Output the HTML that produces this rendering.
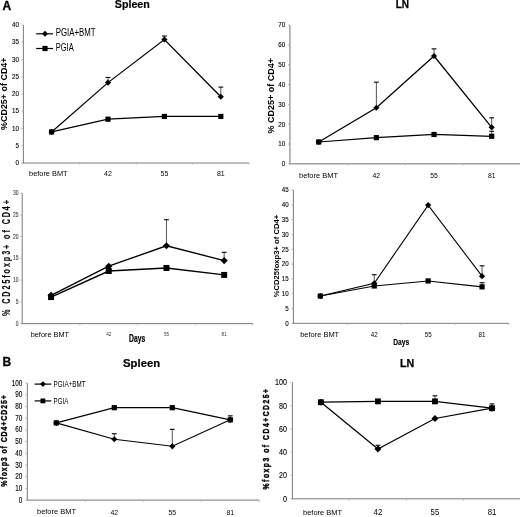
<!DOCTYPE html>
<html><head><meta charset="utf-8"><style>
html,body{margin:0;padding:0;background:#fff;}
body{filter:grayscale(1) blur(0.3px);}
svg{display:block;font-family:"Liberation Sans", sans-serif;}
</style></head><body>
<svg width="520" height="517" viewBox="0 0 520 517">
<rect width="520" height="517" fill="#fff"/>
<text x="2.40" y="9.90" font-size="12" text-anchor="start" fill="#000" font-weight="bold" stroke="#000" stroke-width="0.3">A</text>
<text x="132.30" y="8.10" font-size="10.8" text-anchor="middle" fill="#000" font-weight="bold" textLength="35.00" lengthAdjust="spacingAndGlyphs" stroke="#000" stroke-width="0.2">Spleen</text>
<line x1="23.40" y1="25.00" x2="23.40" y2="163.50" stroke="#7a7a7a" stroke-width="1"/>
<line x1="22.90" y1="163.00" x2="249.00" y2="163.00" stroke="#7a7a7a" stroke-width="1"/>
<line x1="21.40" y1="163.00" x2="23.40" y2="163.00" stroke="#a8a8a8" stroke-width="0.8"/>
<text x="19.00" y="165.06" font-size="8.0" text-anchor="end" fill="#000" textLength="3.50" lengthAdjust="spacingAndGlyphs" stroke="#000" stroke-width="0.12">0</text>
<line x1="21.40" y1="145.75" x2="23.40" y2="145.75" stroke="#a8a8a8" stroke-width="0.8"/>
<text x="19.00" y="147.81" font-size="8.0" text-anchor="end" fill="#000" textLength="3.50" lengthAdjust="spacingAndGlyphs" stroke="#000" stroke-width="0.12">5</text>
<line x1="21.40" y1="128.50" x2="23.40" y2="128.50" stroke="#a8a8a8" stroke-width="0.8"/>
<text x="19.00" y="130.56" font-size="8.0" text-anchor="end" fill="#000" textLength="7.00" lengthAdjust="spacingAndGlyphs" stroke="#000" stroke-width="0.12">10</text>
<line x1="21.40" y1="111.25" x2="23.40" y2="111.25" stroke="#a8a8a8" stroke-width="0.8"/>
<text x="19.00" y="113.31" font-size="8.0" text-anchor="end" fill="#000" textLength="7.00" lengthAdjust="spacingAndGlyphs" stroke="#000" stroke-width="0.12">15</text>
<line x1="21.40" y1="94.00" x2="23.40" y2="94.00" stroke="#a8a8a8" stroke-width="0.8"/>
<text x="19.00" y="96.06" font-size="8.0" text-anchor="end" fill="#000" textLength="7.00" lengthAdjust="spacingAndGlyphs" stroke="#000" stroke-width="0.12">20</text>
<line x1="21.40" y1="76.75" x2="23.40" y2="76.75" stroke="#a8a8a8" stroke-width="0.8"/>
<text x="19.00" y="78.81" font-size="8.0" text-anchor="end" fill="#000" textLength="7.00" lengthAdjust="spacingAndGlyphs" stroke="#000" stroke-width="0.12">25</text>
<line x1="21.40" y1="59.50" x2="23.40" y2="59.50" stroke="#a8a8a8" stroke-width="0.8"/>
<text x="19.00" y="61.56" font-size="8.0" text-anchor="end" fill="#000" textLength="7.00" lengthAdjust="spacingAndGlyphs" stroke="#000" stroke-width="0.12">30</text>
<line x1="21.40" y1="42.25" x2="23.40" y2="42.25" stroke="#a8a8a8" stroke-width="0.8"/>
<text x="19.00" y="44.31" font-size="8.0" text-anchor="end" fill="#000" textLength="7.00" lengthAdjust="spacingAndGlyphs" stroke="#000" stroke-width="0.12">35</text>
<line x1="21.40" y1="25.00" x2="23.40" y2="25.00" stroke="#a8a8a8" stroke-width="0.8"/>
<text x="19.00" y="27.06" font-size="8.0" text-anchor="end" fill="#000" textLength="7.00" lengthAdjust="spacingAndGlyphs" stroke="#000" stroke-width="0.12">40</text>
<line x1="79.80" y1="163.00" x2="79.80" y2="164.80" stroke="#b0b0b0" stroke-width="0.8"/>
<line x1="136.20" y1="163.00" x2="136.20" y2="164.80" stroke="#b0b0b0" stroke-width="0.8"/>
<line x1="192.60" y1="163.00" x2="192.60" y2="164.80" stroke="#b0b0b0" stroke-width="0.8"/>
<line x1="249.00" y1="163.00" x2="249.00" y2="164.80" stroke="#b0b0b0" stroke-width="0.8"/>
<text x="48.30" y="176.30" font-size="7.7" text-anchor="middle" fill="#000" textLength="38.50" lengthAdjust="spacingAndGlyphs">before BMT</text>
<text x="108.00" y="176.00" font-size="8" text-anchor="middle" fill="#000" textLength="7.80" lengthAdjust="spacingAndGlyphs">42</text>
<text x="164.40" y="176.00" font-size="8" text-anchor="middle" fill="#000" textLength="7.80" lengthAdjust="spacingAndGlyphs">55</text>
<text x="220.80" y="176.00" font-size="8" text-anchor="middle" fill="#000" textLength="7.80" lengthAdjust="spacingAndGlyphs">81</text>
<polyline points="51.60,131.95 108.00,119.19 164.40,116.42 220.80,116.42" fill="none" stroke="#000" stroke-width="1.25" stroke-linejoin="miter"/>
<polyline points="51.60,131.95 108.00,82.61 164.40,39.49 220.80,96.76" fill="none" stroke="#000" stroke-width="1.25" stroke-linejoin="miter"/>
<line x1="108.00" y1="82.61" x2="108.00" y2="77.44" stroke="#555" stroke-width="1.0"/>
<line x1="105.60" y1="77.44" x2="110.40" y2="77.44" stroke="#000" stroke-width="1.1"/>
<line x1="164.40" y1="39.49" x2="164.40" y2="36.04" stroke="#555" stroke-width="1.0"/>
<line x1="162.00" y1="36.04" x2="166.80" y2="36.04" stroke="#000" stroke-width="1.1"/>
<line x1="220.80" y1="96.76" x2="220.80" y2="87.10" stroke="#555" stroke-width="1.0"/>
<line x1="218.40" y1="87.10" x2="223.20" y2="87.10" stroke="#000" stroke-width="1.1"/>
<rect x="49.00" y="129.35" width="5.20" height="5.20" fill="#000"/>
<rect x="105.40" y="116.59" width="5.20" height="5.20" fill="#000"/>
<rect x="161.80" y="113.83" width="5.20" height="5.20" fill="#000"/>
<rect x="218.20" y="113.83" width="5.20" height="5.20" fill="#000"/>
<path d="M48.50 131.95L51.60 128.85L54.70 131.95L51.60 135.05Z" fill="#000"/>
<path d="M104.90 82.61L108.00 79.52L111.10 82.61L108.00 85.71Z" fill="#000"/>
<path d="M161.30 39.49L164.40 36.39L167.50 39.49L164.40 42.59Z" fill="#000"/>
<path d="M217.70 96.76L220.80 93.66L223.90 96.76L220.80 99.86Z" fill="#000"/>
<text x="7.00" y="93.70" font-size="9.3" text-anchor="middle" fill="#000" font-weight="bold" textLength="72.50" lengthAdjust="spacingAndGlyphs" transform="rotate(-90 7.00 93.70)">%CD25+ of CD4+</text>
<line x1="36.20" y1="33.80" x2="53.00" y2="33.80" stroke="#000" stroke-width="1.2"/>
<path d="M42.00 33.80L45.00 30.80L48.00 33.80L45.00 36.80Z" fill="#000"/>
<text x="55.70" y="36.40" font-size="10" text-anchor="start" fill="#000" textLength="40.00" lengthAdjust="spacingAndGlyphs">PGIA+BMT</text>
<line x1="36.20" y1="48.50" x2="53.00" y2="48.50" stroke="#000" stroke-width="1.2"/>
<rect x="42.40" y="45.90" width="5.20" height="5.20" fill="#000"/>
<text x="55.70" y="51.10" font-size="10" text-anchor="start" fill="#000" textLength="18.00" lengthAdjust="spacingAndGlyphs">PGIA</text>
<text x="402.40" y="8.40" font-size="10.4" text-anchor="middle" fill="#000" font-weight="bold" textLength="13.40" lengthAdjust="spacingAndGlyphs" stroke="#000" stroke-width="0.25">LN</text>
<line x1="289.90" y1="25.10" x2="289.90" y2="164.30" stroke="#a0a0a0" stroke-width="1.5"/>
<line x1="289.40" y1="163.80" x2="520.50" y2="163.80" stroke="#a0a0a0" stroke-width="1.5"/>
<line x1="287.90" y1="163.80" x2="289.90" y2="163.80" stroke="#a8a8a8" stroke-width="0.8"/>
<text x="285.10" y="166.16" font-size="7.7" text-anchor="end" fill="#000" textLength="3.45" lengthAdjust="spacingAndGlyphs" stroke="#000" stroke-width="0.12">0</text>
<line x1="287.90" y1="143.99" x2="289.90" y2="143.99" stroke="#a8a8a8" stroke-width="0.8"/>
<text x="285.10" y="146.34" font-size="7.7" text-anchor="end" fill="#000" textLength="6.90" lengthAdjust="spacingAndGlyphs" stroke="#000" stroke-width="0.12">10</text>
<line x1="287.90" y1="124.17" x2="289.90" y2="124.17" stroke="#a8a8a8" stroke-width="0.8"/>
<text x="285.10" y="126.53" font-size="7.7" text-anchor="end" fill="#000" textLength="6.90" lengthAdjust="spacingAndGlyphs" stroke="#000" stroke-width="0.12">20</text>
<line x1="287.90" y1="104.36" x2="289.90" y2="104.36" stroke="#a8a8a8" stroke-width="0.8"/>
<text x="285.10" y="106.71" font-size="7.7" text-anchor="end" fill="#000" textLength="6.90" lengthAdjust="spacingAndGlyphs" stroke="#000" stroke-width="0.12">30</text>
<line x1="287.90" y1="84.54" x2="289.90" y2="84.54" stroke="#a8a8a8" stroke-width="0.8"/>
<text x="285.10" y="86.90" font-size="7.7" text-anchor="end" fill="#000" textLength="6.90" lengthAdjust="spacingAndGlyphs" stroke="#000" stroke-width="0.12">40</text>
<line x1="287.90" y1="64.73" x2="289.90" y2="64.73" stroke="#a8a8a8" stroke-width="0.8"/>
<text x="285.10" y="67.09" font-size="7.7" text-anchor="end" fill="#000" textLength="6.90" lengthAdjust="spacingAndGlyphs" stroke="#000" stroke-width="0.12">50</text>
<line x1="287.90" y1="44.91" x2="289.90" y2="44.91" stroke="#a8a8a8" stroke-width="0.8"/>
<text x="285.10" y="47.27" font-size="7.7" text-anchor="end" fill="#000" textLength="6.90" lengthAdjust="spacingAndGlyphs" stroke="#000" stroke-width="0.12">60</text>
<line x1="287.90" y1="25.10" x2="289.90" y2="25.10" stroke="#a8a8a8" stroke-width="0.8"/>
<text x="285.10" y="27.46" font-size="7.7" text-anchor="end" fill="#000" textLength="6.90" lengthAdjust="spacingAndGlyphs" stroke="#000" stroke-width="0.12">70</text>
<line x1="347.55" y1="163.80" x2="347.55" y2="165.60" stroke="#b0b0b0" stroke-width="0.8"/>
<line x1="405.20" y1="163.80" x2="405.20" y2="165.60" stroke="#b0b0b0" stroke-width="0.8"/>
<line x1="462.85" y1="163.80" x2="462.85" y2="165.60" stroke="#b0b0b0" stroke-width="0.8"/>
<line x1="520.50" y1="163.80" x2="520.50" y2="165.60" stroke="#b0b0b0" stroke-width="0.8"/>
<text x="318.50" y="177.90" font-size="7.7" text-anchor="middle" fill="#000" textLength="39.00" lengthAdjust="spacingAndGlyphs">before BMT</text>
<text x="376.38" y="177.90" font-size="7.7" text-anchor="middle" fill="#000" textLength="7.60" lengthAdjust="spacingAndGlyphs">42</text>
<text x="434.02" y="177.90" font-size="7.7" text-anchor="middle" fill="#000" textLength="7.60" lengthAdjust="spacingAndGlyphs">55</text>
<text x="491.68" y="177.90" font-size="7.7" text-anchor="middle" fill="#000" textLength="7.60" lengthAdjust="spacingAndGlyphs">81</text>
<polyline points="318.72,142.00 376.38,137.65 434.02,134.47 491.68,136.26" fill="none" stroke="#000" stroke-width="1.25" stroke-linejoin="miter"/>
<polyline points="318.72,142.00 376.38,107.73 434.02,56.01 491.68,127.34" fill="none" stroke="#000" stroke-width="1.25" stroke-linejoin="miter"/>
<line x1="491.68" y1="136.26" x2="491.68" y2="131.30" stroke="#555" stroke-width="1.0"/>
<line x1="489.28" y1="131.30" x2="494.07" y2="131.30" stroke="#000" stroke-width="1.1"/>
<line x1="376.38" y1="107.73" x2="376.38" y2="82.17" stroke="#555" stroke-width="1.0"/>
<line x1="373.98" y1="82.17" x2="378.77" y2="82.17" stroke="#000" stroke-width="1.1"/>
<line x1="434.02" y1="56.01" x2="434.02" y2="48.88" stroke="#555" stroke-width="1.0"/>
<line x1="431.62" y1="48.88" x2="436.42" y2="48.88" stroke="#000" stroke-width="1.1"/>
<line x1="491.68" y1="127.34" x2="491.68" y2="117.83" stroke="#555" stroke-width="1.0"/>
<line x1="489.28" y1="117.83" x2="494.07" y2="117.83" stroke="#000" stroke-width="1.1"/>
<rect x="316.12" y="139.40" width="5.20" height="5.20" fill="#000"/>
<rect x="373.77" y="135.05" width="5.20" height="5.20" fill="#000"/>
<rect x="431.42" y="131.87" width="5.20" height="5.20" fill="#000"/>
<rect x="489.07" y="133.66" width="5.20" height="5.20" fill="#000"/>
<path d="M315.62 142.00L318.72 138.90L321.82 142.00L318.72 145.10Z" fill="#000"/>
<path d="M373.27 107.73L376.38 104.63L379.48 107.73L376.38 110.83Z" fill="#000"/>
<path d="M430.92 56.01L434.02 52.91L437.12 56.01L434.02 59.11Z" fill="#000"/>
<path d="M488.57 127.34L491.68 124.24L494.78 127.34L491.68 130.44Z" fill="#000"/>
<text x="274.00" y="95.70" font-size="9" text-anchor="middle" fill="#000" font-weight="bold" textLength="75.50" lengthAdjust="spacingAndGlyphs" transform="rotate(-90 274.00 95.70)">% CD25+ of CD4+</text>
<line x1="22.20" y1="193.20" x2="22.20" y2="324.10" stroke="#7a7a7a" stroke-width="1"/>
<line x1="21.70" y1="323.60" x2="253.00" y2="323.60" stroke="#7a7a7a" stroke-width="1"/>
<line x1="20.20" y1="323.60" x2="22.20" y2="323.60" stroke="#a8a8a8" stroke-width="0.8"/>
<text x="18.60" y="325.53" font-size="6.5" text-anchor="end" fill="#444" textLength="2.75" lengthAdjust="spacingAndGlyphs" stroke="#444" stroke-width="0.12">0</text>
<line x1="20.20" y1="301.87" x2="22.20" y2="301.87" stroke="#a8a8a8" stroke-width="0.8"/>
<text x="18.60" y="303.79" font-size="6.5" text-anchor="end" fill="#444" textLength="2.75" lengthAdjust="spacingAndGlyphs" stroke="#444" stroke-width="0.12">5</text>
<line x1="20.20" y1="280.13" x2="22.20" y2="280.13" stroke="#a8a8a8" stroke-width="0.8"/>
<text x="18.60" y="282.06" font-size="6.5" text-anchor="end" fill="#444" textLength="5.50" lengthAdjust="spacingAndGlyphs" stroke="#444" stroke-width="0.12">10</text>
<line x1="20.20" y1="258.40" x2="22.20" y2="258.40" stroke="#a8a8a8" stroke-width="0.8"/>
<text x="18.60" y="260.33" font-size="6.5" text-anchor="end" fill="#444" textLength="5.50" lengthAdjust="spacingAndGlyphs" stroke="#444" stroke-width="0.12">15</text>
<line x1="20.20" y1="236.67" x2="22.20" y2="236.67" stroke="#a8a8a8" stroke-width="0.8"/>
<text x="18.60" y="238.59" font-size="6.5" text-anchor="end" fill="#444" textLength="5.50" lengthAdjust="spacingAndGlyphs" stroke="#444" stroke-width="0.12">20</text>
<line x1="20.20" y1="214.93" x2="22.20" y2="214.93" stroke="#a8a8a8" stroke-width="0.8"/>
<text x="18.60" y="216.86" font-size="6.5" text-anchor="end" fill="#444" textLength="5.50" lengthAdjust="spacingAndGlyphs" stroke="#444" stroke-width="0.12">25</text>
<line x1="20.20" y1="193.20" x2="22.20" y2="193.20" stroke="#a8a8a8" stroke-width="0.8"/>
<text x="18.60" y="195.13" font-size="6.5" text-anchor="end" fill="#444" textLength="5.50" lengthAdjust="spacingAndGlyphs" stroke="#444" stroke-width="0.12">30</text>
<line x1="79.90" y1="323.60" x2="79.90" y2="325.40" stroke="#b0b0b0" stroke-width="0.8"/>
<line x1="137.60" y1="323.60" x2="137.60" y2="325.40" stroke="#b0b0b0" stroke-width="0.8"/>
<line x1="195.30" y1="323.60" x2="195.30" y2="325.40" stroke="#b0b0b0" stroke-width="0.8"/>
<line x1="253.00" y1="323.60" x2="253.00" y2="325.40" stroke="#b0b0b0" stroke-width="0.8"/>
<text x="49.90" y="336.90" font-size="7.7" text-anchor="middle" fill="#000" textLength="38.40" lengthAdjust="spacingAndGlyphs">before BMT</text>
<text x="108.75" y="336.20" font-size="5.6" text-anchor="middle" fill="#333" textLength="5.10" lengthAdjust="spacingAndGlyphs">42</text>
<text x="166.45" y="336.20" font-size="5.6" text-anchor="middle" fill="#333" textLength="5.10" lengthAdjust="spacingAndGlyphs">55</text>
<text x="224.15" y="336.20" font-size="5.6" text-anchor="middle" fill="#333" textLength="5.10" lengthAdjust="spacingAndGlyphs">81</text>
<polyline points="51.05,297.09 108.75,271.01 166.45,267.96 224.15,274.92" fill="none" stroke="#000" stroke-width="1.35" stroke-linejoin="miter"/>
<polyline points="51.05,295.35 108.75,266.22 166.45,245.79 224.15,260.57" fill="none" stroke="#000" stroke-width="1.35" stroke-linejoin="miter"/>
<line x1="166.45" y1="245.79" x2="166.45" y2="219.71" stroke="#555" stroke-width="1.0"/>
<line x1="164.05" y1="219.71" x2="168.85" y2="219.71" stroke="#000" stroke-width="1.1"/>
<line x1="224.15" y1="260.57" x2="224.15" y2="252.31" stroke="#555" stroke-width="1.0"/>
<line x1="221.75" y1="252.31" x2="226.55" y2="252.31" stroke="#000" stroke-width="1.1"/>
<rect x="48.06" y="294.10" width="5.98" height="5.98" fill="#000"/>
<rect x="105.76" y="268.02" width="5.98" height="5.98" fill="#000"/>
<rect x="163.46" y="264.97" width="5.98" height="5.98" fill="#000"/>
<rect x="221.16" y="271.93" width="5.98" height="5.98" fill="#000"/>
<path d="M47.48 295.35L51.05 291.78L54.61 295.35L51.05 298.91Z" fill="#000"/>
<path d="M105.19 266.22L108.75 262.66L112.32 266.22L108.75 269.79Z" fill="#000"/>
<path d="M162.88 245.79L166.45 242.23L170.01 245.79L166.45 249.36Z" fill="#000"/>
<path d="M220.59 260.57L224.15 257.01L227.72 260.57L224.15 264.14Z" fill="#000"/>
<text x="0" y="0" font-size="10.0" text-anchor="middle" fill="#000" font-weight="bold" textLength="161.11" lengthAdjust="spacing" transform="translate(9.80 258.00) rotate(-90) scale(0.72 1)" stroke="#000" stroke-width="0.1">% CD25foxp3+ of CD4+</text>
<text x="137.10" y="341.90" font-size="10.6" text-anchor="middle" fill="#000" font-weight="bold" textLength="16.20" lengthAdjust="spacingAndGlyphs" stroke="#000" stroke-width="0.2">Days</text>
<line x1="293.40" y1="190.00" x2="293.40" y2="323.80" stroke="#7a7a7a" stroke-width="1"/>
<line x1="292.90" y1="323.30" x2="509.00" y2="323.30" stroke="#7a7a7a" stroke-width="1"/>
<line x1="291.40" y1="323.30" x2="293.40" y2="323.30" stroke="#a8a8a8" stroke-width="0.8"/>
<text x="288.75" y="325.66" font-size="7.7" text-anchor="end" fill="#000" textLength="3.45" lengthAdjust="spacingAndGlyphs" stroke="#000" stroke-width="0.12">0</text>
<line x1="291.40" y1="308.49" x2="293.40" y2="308.49" stroke="#a8a8a8" stroke-width="0.8"/>
<text x="288.75" y="310.85" font-size="7.7" text-anchor="end" fill="#000" textLength="3.45" lengthAdjust="spacingAndGlyphs" stroke="#000" stroke-width="0.12">5</text>
<line x1="291.40" y1="293.68" x2="293.40" y2="293.68" stroke="#a8a8a8" stroke-width="0.8"/>
<text x="288.75" y="296.03" font-size="7.7" text-anchor="end" fill="#000" textLength="6.90" lengthAdjust="spacingAndGlyphs" stroke="#000" stroke-width="0.12">10</text>
<line x1="291.40" y1="278.87" x2="293.40" y2="278.87" stroke="#a8a8a8" stroke-width="0.8"/>
<text x="288.75" y="281.22" font-size="7.7" text-anchor="end" fill="#000" textLength="6.90" lengthAdjust="spacingAndGlyphs" stroke="#000" stroke-width="0.12">15</text>
<line x1="291.40" y1="264.06" x2="293.40" y2="264.06" stroke="#a8a8a8" stroke-width="0.8"/>
<text x="288.75" y="266.41" font-size="7.7" text-anchor="end" fill="#000" textLength="6.90" lengthAdjust="spacingAndGlyphs" stroke="#000" stroke-width="0.12">20</text>
<line x1="291.40" y1="249.24" x2="293.40" y2="249.24" stroke="#a8a8a8" stroke-width="0.8"/>
<text x="288.75" y="251.60" font-size="7.7" text-anchor="end" fill="#000" textLength="6.90" lengthAdjust="spacingAndGlyphs" stroke="#000" stroke-width="0.12">25</text>
<line x1="291.40" y1="234.43" x2="293.40" y2="234.43" stroke="#a8a8a8" stroke-width="0.8"/>
<text x="288.75" y="236.79" font-size="7.7" text-anchor="end" fill="#000" textLength="6.90" lengthAdjust="spacingAndGlyphs" stroke="#000" stroke-width="0.12">30</text>
<line x1="291.40" y1="219.62" x2="293.40" y2="219.62" stroke="#a8a8a8" stroke-width="0.8"/>
<text x="288.75" y="221.98" font-size="7.7" text-anchor="end" fill="#000" textLength="6.90" lengthAdjust="spacingAndGlyphs" stroke="#000" stroke-width="0.12">35</text>
<line x1="291.40" y1="204.81" x2="293.40" y2="204.81" stroke="#a8a8a8" stroke-width="0.8"/>
<text x="288.75" y="207.17" font-size="7.7" text-anchor="end" fill="#000" textLength="6.90" lengthAdjust="spacingAndGlyphs" stroke="#000" stroke-width="0.12">40</text>
<line x1="291.40" y1="190.00" x2="293.40" y2="190.00" stroke="#a8a8a8" stroke-width="0.8"/>
<text x="288.75" y="192.36" font-size="7.7" text-anchor="end" fill="#000" textLength="6.90" lengthAdjust="spacingAndGlyphs" stroke="#000" stroke-width="0.12">45</text>
<line x1="347.30" y1="323.30" x2="347.30" y2="325.10" stroke="#b0b0b0" stroke-width="0.8"/>
<line x1="401.20" y1="323.30" x2="401.20" y2="325.10" stroke="#b0b0b0" stroke-width="0.8"/>
<line x1="455.10" y1="323.30" x2="455.10" y2="325.10" stroke="#b0b0b0" stroke-width="0.8"/>
<line x1="509.00" y1="323.30" x2="509.00" y2="325.10" stroke="#b0b0b0" stroke-width="0.8"/>
<text x="319.70" y="337.00" font-size="7.5" text-anchor="middle" fill="#000" textLength="39.00" lengthAdjust="spacingAndGlyphs">before BMT</text>
<text x="374.25" y="336.80" font-size="7.3" text-anchor="middle" fill="#000" textLength="6.90" lengthAdjust="spacingAndGlyphs">42</text>
<text x="428.15" y="336.80" font-size="7.3" text-anchor="middle" fill="#000" textLength="6.90" lengthAdjust="spacingAndGlyphs">55</text>
<text x="482.05" y="336.80" font-size="7.3" text-anchor="middle" fill="#000" textLength="6.90" lengthAdjust="spacingAndGlyphs">81</text>
<polyline points="320.35,296.05 374.25,285.98 428.15,280.94 482.05,286.86" fill="none" stroke="#000" stroke-width="1.1" stroke-linejoin="miter"/>
<polyline points="320.35,296.05 374.25,283.31 428.15,205.11 482.05,276.20" fill="none" stroke="#000" stroke-width="1.1" stroke-linejoin="miter"/>
<line x1="482.05" y1="286.86" x2="482.05" y2="282.72" stroke="#555" stroke-width="1.0"/>
<line x1="479.65" y1="282.72" x2="484.45" y2="282.72" stroke="#000" stroke-width="1.1"/>
<line x1="374.25" y1="283.31" x2="374.25" y2="274.72" stroke="#555" stroke-width="1.0"/>
<line x1="371.85" y1="274.72" x2="376.65" y2="274.72" stroke="#000" stroke-width="1.1"/>
<line x1="482.05" y1="276.20" x2="482.05" y2="265.83" stroke="#555" stroke-width="1.0"/>
<line x1="479.65" y1="265.83" x2="484.45" y2="265.83" stroke="#000" stroke-width="1.1"/>
<rect x="317.75" y="293.45" width="5.20" height="5.20" fill="#000"/>
<rect x="371.65" y="283.38" width="5.20" height="5.20" fill="#000"/>
<rect x="425.55" y="278.34" width="5.20" height="5.20" fill="#000"/>
<rect x="479.45" y="284.26" width="5.20" height="5.20" fill="#000"/>
<path d="M317.25 296.05L320.35 292.95L323.45 296.05L320.35 299.15Z" fill="#000"/>
<path d="M371.15 283.31L374.25 280.21L377.35 283.31L374.25 286.41Z" fill="#000"/>
<path d="M425.05 205.11L428.15 202.01L431.25 205.11L428.15 208.21Z" fill="#000"/>
<path d="M478.95 276.20L482.05 273.10L485.15 276.20L482.05 279.30Z" fill="#000"/>
<text x="279.00" y="256.00" font-size="6.8" text-anchor="middle" fill="#000" font-weight="bold" textLength="82.50" lengthAdjust="spacingAndGlyphs" transform="rotate(-90 279.00 256.00)">%CD25foxp3+ of CD4+</text>
<text x="401.20" y="345.00" font-size="8.8" text-anchor="middle" fill="#000" font-weight="bold" textLength="16.00" lengthAdjust="spacingAndGlyphs" stroke="#000" stroke-width="0.15">Days</text>
<text x="2.60" y="366.30" font-size="12" text-anchor="start" fill="#000" font-weight="bold" stroke="#000" stroke-width="0.3">B</text>
<text x="141.60" y="366.50" font-size="11" text-anchor="middle" fill="#000" font-weight="bold" textLength="37.00" lengthAdjust="spacingAndGlyphs" stroke="#000" stroke-width="0.2">Spleen</text>
<line x1="27.30" y1="383.10" x2="27.30" y2="500.60" stroke="#7a7a7a" stroke-width="1"/>
<line x1="26.80" y1="500.10" x2="259.30" y2="500.10" stroke="#7a7a7a" stroke-width="1"/>
<line x1="25.30" y1="500.10" x2="27.30" y2="500.10" stroke="#a8a8a8" stroke-width="0.8"/>
<text x="22.30" y="502.67" font-size="8.3" text-anchor="end" fill="#000" textLength="3.55" lengthAdjust="spacingAndGlyphs" stroke="#000" stroke-width="0.12">0</text>
<line x1="25.30" y1="488.40" x2="27.30" y2="488.40" stroke="#a8a8a8" stroke-width="0.8"/>
<text x="22.30" y="490.97" font-size="8.3" text-anchor="end" fill="#000" textLength="7.10" lengthAdjust="spacingAndGlyphs" stroke="#000" stroke-width="0.12">10</text>
<line x1="25.30" y1="476.70" x2="27.30" y2="476.70" stroke="#a8a8a8" stroke-width="0.8"/>
<text x="22.30" y="479.27" font-size="8.3" text-anchor="end" fill="#000" textLength="7.10" lengthAdjust="spacingAndGlyphs" stroke="#000" stroke-width="0.12">20</text>
<line x1="25.30" y1="465.00" x2="27.30" y2="465.00" stroke="#a8a8a8" stroke-width="0.8"/>
<text x="22.30" y="467.57" font-size="8.3" text-anchor="end" fill="#000" textLength="7.10" lengthAdjust="spacingAndGlyphs" stroke="#000" stroke-width="0.12">30</text>
<line x1="25.30" y1="453.30" x2="27.30" y2="453.30" stroke="#a8a8a8" stroke-width="0.8"/>
<text x="22.30" y="455.87" font-size="8.3" text-anchor="end" fill="#000" textLength="7.10" lengthAdjust="spacingAndGlyphs" stroke="#000" stroke-width="0.12">40</text>
<line x1="25.30" y1="441.60" x2="27.30" y2="441.60" stroke="#a8a8a8" stroke-width="0.8"/>
<text x="22.30" y="444.17" font-size="8.3" text-anchor="end" fill="#000" textLength="7.10" lengthAdjust="spacingAndGlyphs" stroke="#000" stroke-width="0.12">50</text>
<line x1="25.30" y1="429.90" x2="27.30" y2="429.90" stroke="#a8a8a8" stroke-width="0.8"/>
<text x="22.30" y="432.47" font-size="8.3" text-anchor="end" fill="#000" textLength="7.10" lengthAdjust="spacingAndGlyphs" stroke="#000" stroke-width="0.12">60</text>
<line x1="25.30" y1="418.20" x2="27.30" y2="418.20" stroke="#a8a8a8" stroke-width="0.8"/>
<text x="22.30" y="420.77" font-size="8.3" text-anchor="end" fill="#000" textLength="7.10" lengthAdjust="spacingAndGlyphs" stroke="#000" stroke-width="0.12">70</text>
<line x1="25.30" y1="406.50" x2="27.30" y2="406.50" stroke="#a8a8a8" stroke-width="0.8"/>
<text x="22.30" y="409.07" font-size="8.3" text-anchor="end" fill="#000" textLength="7.10" lengthAdjust="spacingAndGlyphs" stroke="#000" stroke-width="0.12">80</text>
<line x1="25.30" y1="394.80" x2="27.30" y2="394.80" stroke="#a8a8a8" stroke-width="0.8"/>
<text x="22.30" y="397.37" font-size="8.3" text-anchor="end" fill="#000" textLength="7.10" lengthAdjust="spacingAndGlyphs" stroke="#000" stroke-width="0.12">90</text>
<line x1="25.30" y1="383.10" x2="27.30" y2="383.10" stroke="#a8a8a8" stroke-width="0.8"/>
<text x="22.30" y="385.67" font-size="8.3" text-anchor="end" fill="#000" textLength="10.65" lengthAdjust="spacingAndGlyphs" stroke="#000" stroke-width="0.12">100</text>
<line x1="85.30" y1="500.10" x2="85.30" y2="501.90" stroke="#b0b0b0" stroke-width="0.8"/>
<line x1="143.30" y1="500.10" x2="143.30" y2="501.90" stroke="#b0b0b0" stroke-width="0.8"/>
<line x1="201.30" y1="500.10" x2="201.30" y2="501.90" stroke="#b0b0b0" stroke-width="0.8"/>
<line x1="259.30" y1="500.10" x2="259.30" y2="501.90" stroke="#b0b0b0" stroke-width="0.8"/>
<text x="56.50" y="514.30" font-size="7.7" text-anchor="middle" fill="#000" textLength="39.00" lengthAdjust="spacingAndGlyphs">before BMT</text>
<text x="114.30" y="514.60" font-size="8" text-anchor="middle" fill="#000" textLength="7.70" lengthAdjust="spacingAndGlyphs">42</text>
<text x="172.30" y="514.60" font-size="8" text-anchor="middle" fill="#000" textLength="7.70" lengthAdjust="spacingAndGlyphs">55</text>
<text x="230.30" y="514.60" font-size="8" text-anchor="middle" fill="#000" textLength="7.70" lengthAdjust="spacingAndGlyphs">81</text>
<polyline points="56.30,422.88 114.30,407.67 172.30,407.67 230.30,419.84" fill="none" stroke="#000" stroke-width="1.15" stroke-linejoin="miter"/>
<polyline points="56.30,422.88 114.30,439.26 172.30,446.28 230.30,419.84" fill="none" stroke="#000" stroke-width="1.15" stroke-linejoin="miter"/>
<line x1="230.30" y1="419.84" x2="230.30" y2="415.86" stroke="#555" stroke-width="1.0"/>
<line x1="227.90" y1="415.86" x2="232.70" y2="415.86" stroke="#000" stroke-width="1.1"/>
<line x1="114.30" y1="439.26" x2="114.30" y2="433.76" stroke="#555" stroke-width="1.0"/>
<line x1="111.90" y1="433.76" x2="116.70" y2="433.76" stroke="#000" stroke-width="1.1"/>
<line x1="172.30" y1="446.28" x2="172.30" y2="429.32" stroke="#555" stroke-width="1.0"/>
<line x1="169.90" y1="429.32" x2="174.70" y2="429.32" stroke="#000" stroke-width="1.1"/>
<rect x="53.70" y="420.28" width="5.20" height="5.20" fill="#000"/>
<rect x="111.70" y="405.07" width="5.20" height="5.20" fill="#000"/>
<rect x="169.70" y="405.07" width="5.20" height="5.20" fill="#000"/>
<rect x="227.70" y="417.24" width="5.20" height="5.20" fill="#000"/>
<path d="M53.20 422.88L56.30 419.78L59.40 422.88L56.30 425.98Z" fill="#000"/>
<path d="M111.20 439.26L114.30 436.16L117.40 439.26L114.30 442.36Z" fill="#000"/>
<path d="M169.20 446.28L172.30 443.18L175.40 446.28L172.30 449.38Z" fill="#000"/>
<path d="M227.20 419.84L230.30 416.74L233.40 419.84L230.30 422.94Z" fill="#000"/>
<text x="0" y="0" font-size="9.0" text-anchor="middle" fill="#000" font-weight="bold" textLength="117.31" lengthAdjust="spacing" transform="translate(6.50 440.90) rotate(-90) scale(0.78 1)" stroke="#000" stroke-width="0.35">%foxp3 of CD4+CD25+</text>
<line x1="34.60" y1="384.10" x2="51.30" y2="384.10" stroke="#000" stroke-width="1.2"/>
<path d="M40.10 384.10L42.90 381.30L45.70 384.10L42.90 386.90Z" fill="#000"/>
<text x="53.60" y="387.18" font-size="8.6" text-anchor="start" fill="#000" textLength="32.00" lengthAdjust="spacingAndGlyphs">PGIA+BMT</text>
<line x1="34.60" y1="400.90" x2="51.30" y2="400.90" stroke="#000" stroke-width="1.2"/>
<rect x="40.50" y="398.50" width="4.80" height="4.80" fill="#000"/>
<text x="53.60" y="403.98" font-size="8.6" text-anchor="start" fill="#000" textLength="14.80" lengthAdjust="spacingAndGlyphs">PGIA</text>
<text x="407.20" y="367.10" font-size="10.8" text-anchor="middle" fill="#000" font-weight="bold" textLength="14.20" lengthAdjust="spacingAndGlyphs" stroke="#000" stroke-width="0.25">LN</text>
<line x1="292.40" y1="382.40" x2="292.40" y2="499.30" stroke="#7a7a7a" stroke-width="1"/>
<line x1="291.90" y1="498.80" x2="520.50" y2="498.80" stroke="#7a7a7a" stroke-width="1"/>
<line x1="290.40" y1="498.80" x2="292.40" y2="498.80" stroke="#a8a8a8" stroke-width="0.8"/>
<text x="287.00" y="501.62" font-size="9.0" text-anchor="end" fill="#000" textLength="3.97" lengthAdjust="spacingAndGlyphs" stroke="#000" stroke-width="0.12">0</text>
<line x1="290.40" y1="475.52" x2="292.40" y2="475.52" stroke="#a8a8a8" stroke-width="0.8"/>
<text x="287.00" y="478.34" font-size="9.0" text-anchor="end" fill="#000" textLength="7.94" lengthAdjust="spacingAndGlyphs" stroke="#000" stroke-width="0.12">20</text>
<line x1="290.40" y1="452.24" x2="292.40" y2="452.24" stroke="#a8a8a8" stroke-width="0.8"/>
<text x="287.00" y="455.06" font-size="9.0" text-anchor="end" fill="#000" textLength="7.94" lengthAdjust="spacingAndGlyphs" stroke="#000" stroke-width="0.12">40</text>
<line x1="290.40" y1="428.96" x2="292.40" y2="428.96" stroke="#a8a8a8" stroke-width="0.8"/>
<text x="287.00" y="431.78" font-size="9.0" text-anchor="end" fill="#000" textLength="7.94" lengthAdjust="spacingAndGlyphs" stroke="#000" stroke-width="0.12">60</text>
<line x1="290.40" y1="405.68" x2="292.40" y2="405.68" stroke="#a8a8a8" stroke-width="0.8"/>
<text x="287.00" y="408.50" font-size="9.0" text-anchor="end" fill="#000" textLength="7.94" lengthAdjust="spacingAndGlyphs" stroke="#000" stroke-width="0.12">80</text>
<line x1="290.40" y1="382.40" x2="292.40" y2="382.40" stroke="#a8a8a8" stroke-width="0.8"/>
<text x="287.00" y="385.22" font-size="9.0" text-anchor="end" fill="#000" textLength="11.91" lengthAdjust="spacingAndGlyphs" stroke="#000" stroke-width="0.12">100</text>
<line x1="349.42" y1="498.80" x2="349.42" y2="500.60" stroke="#b0b0b0" stroke-width="0.8"/>
<line x1="406.45" y1="498.80" x2="406.45" y2="500.60" stroke="#b0b0b0" stroke-width="0.8"/>
<line x1="463.48" y1="498.80" x2="463.48" y2="500.60" stroke="#b0b0b0" stroke-width="0.8"/>
<line x1="520.50" y1="498.80" x2="520.50" y2="500.60" stroke="#b0b0b0" stroke-width="0.8"/>
<text x="322.50" y="514.60" font-size="7.5" text-anchor="middle" fill="#000" textLength="39.00" lengthAdjust="spacingAndGlyphs">before BMT</text>
<text x="377.94" y="515.20" font-size="8.5" text-anchor="middle" fill="#000" textLength="8.70" lengthAdjust="spacingAndGlyphs">42</text>
<text x="434.96" y="515.20" font-size="8.5" text-anchor="middle" fill="#000" textLength="8.70" lengthAdjust="spacingAndGlyphs">55</text>
<text x="491.99" y="515.20" font-size="8.5" text-anchor="middle" fill="#000" textLength="8.70" lengthAdjust="spacingAndGlyphs">81</text>
<polyline points="320.91,402.19 377.94,401.37 434.96,401.37 491.99,408.24" fill="none" stroke="#000" stroke-width="1.25" stroke-linejoin="miter"/>
<polyline points="320.91,402.19 377.94,448.98 434.96,418.48 491.99,408.24" fill="none" stroke="#000" stroke-width="1.25" stroke-linejoin="miter"/>
<line x1="434.96" y1="401.37" x2="434.96" y2="395.79" stroke="#555" stroke-width="1.0"/>
<line x1="432.56" y1="395.79" x2="437.36" y2="395.79" stroke="#000" stroke-width="1.1"/>
<line x1="491.99" y1="408.24" x2="491.99" y2="403.93" stroke="#555" stroke-width="1.0"/>
<line x1="489.59" y1="403.93" x2="494.39" y2="403.93" stroke="#000" stroke-width="1.1"/>
<line x1="377.94" y1="448.98" x2="377.94" y2="445.26" stroke="#555" stroke-width="1.0"/>
<line x1="375.54" y1="445.26" x2="380.34" y2="445.26" stroke="#000" stroke-width="1.1"/>
<rect x="318.00" y="399.28" width="5.82" height="5.82" fill="#000"/>
<rect x="375.03" y="398.46" width="5.82" height="5.82" fill="#000"/>
<rect x="432.05" y="398.46" width="5.82" height="5.82" fill="#000"/>
<rect x="489.08" y="405.33" width="5.82" height="5.82" fill="#000"/>
<path d="M317.44 402.19L320.91 398.72L324.38 402.19L320.91 405.66Z" fill="#000"/>
<path d="M374.47 448.98L377.94 445.51L381.41 448.98L377.94 452.45Z" fill="#000"/>
<path d="M431.49 418.48L434.96 415.01L438.43 418.48L434.96 421.96Z" fill="#000"/>
<path d="M488.52 408.24L491.99 404.77L495.46 408.24L491.99 411.71Z" fill="#000"/>
<text x="0" y="0" font-size="9.7" text-anchor="middle" fill="#000" font-weight="bold" textLength="143.57" lengthAdjust="spacing" transform="translate(269.00 439.20) rotate(-90) scale(0.7 1)" stroke="#000" stroke-width="0.45">%foxp3 of CD4+CD25+</text>
</svg>
</body></html>
